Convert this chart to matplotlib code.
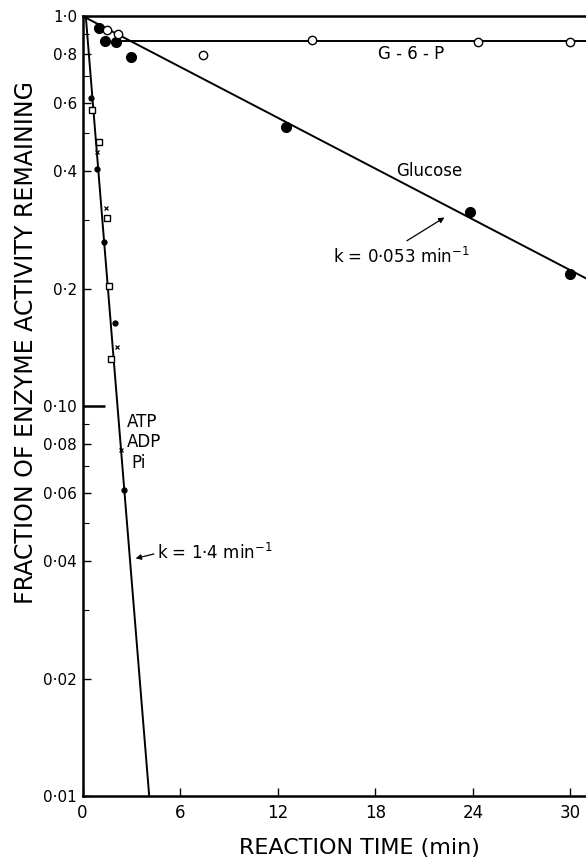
import matplotlib
matplotlib.use("Agg")
import matplotlib.pyplot as plt
import numpy as np

# ---- data ----
glucose_t = [1.0, 1.38, 2.05, 3.0, 12.5, 23.8, 30.0]
glucose_y = [0.93, 0.863, 0.858, 0.785, 0.52, 0.314, 0.218]
glucose_fit_t = [0.0, 31.0]
glucose_fit_y = [1.0, 0.212]

g6p_t = [1.5, 2.2, 7.4, 14.1, 24.3, 30.0]
g6p_y = [0.92, 0.90, 0.794, 0.868, 0.858, 0.858]
g6p_fit_t = [2.3, 31.0]
g6p_fit_y = [0.865, 0.865]

atp_dot_t = [0.52, 0.9, 1.3, 2.0, 2.57]
atp_dot_y = [0.616, 0.405, 0.263, 0.163, 0.061]
atp_sq_t = [0.58, 1.0, 1.5, 1.6, 1.75]
atp_sq_y = [0.574, 0.475, 0.303, 0.203, 0.132]
atp_x_t = [0.88, 1.43, 2.15, 2.35]
atp_x_y = [0.448, 0.322, 0.142, 0.077]
atp_fit_t = [0.2, 4.1]
atp_fit_y = [1.0, 0.01]

x_ticks = [0, 6, 12, 18, 24, 30]
y_major = [0.01, 0.02, 0.04, 0.06, 0.08, 0.1, 0.2, 0.4, 0.6, 0.8, 1.0]
y_major_labels = ["0·01", "0·02", "0·04", "0·06", "0·08", "0·10",
                  "0·2", "0·4", "0·6", "0·8", "1·0"]
y_minor = [0.03, 0.05, 0.07, 0.09, 0.3, 0.5, 0.7, 0.9]

plt.rcParams['font.family'] = ['DejaVu Sans']

fig = plt.figure(figsize=(5.86, 8.61), dpi=100)
ax = fig.add_axes([0.1408, 0.0755, 0.859, 0.9059])
ax.set_yscale('log')
ax.set_xlim(0, 30.95)
ax.set_ylim(0.01, 1.0)

lw = 1.4
ax.plot(glucose_fit_t, glucose_fit_y, color='black', lw=lw)
ax.plot(g6p_fit_t, g6p_fit_y, color='black', lw=lw)
ax.plot(atp_fit_t, atp_fit_y, color='black', lw=lw)

ax.plot(glucose_t, glucose_y, 'o', color='black', ms=7, clip_on=False)
ax.plot(g6p_t, g6p_y, 'o', mfc='white', mec='black', mew=1.0, ms=6, clip_on=False)
ax.plot(atp_dot_t, atp_dot_y, 'o', color='black', ms=3.5)
ax.plot(atp_sq_t, atp_sq_y, 's', mfc='white', mec='black', mew=1.0, ms=4.5)
ax.plot(atp_x_t, atp_x_y, 'x', color='black', mew=0.9, ms=3.5)

# spines
for s in ['left', 'bottom', 'top']:
    ax.spines[s].set_linewidth(1.8)
ax.spines['right'].set_visible(False)

ax.set_xticks(x_ticks)
ax.set_xticklabels([str(v) for v in x_ticks], fontsize=12)
ax.set_yticks(y_major)
ax.set_yticklabels(y_major_labels, fontsize=11)
ax.set_yticks(y_minor, minor=True)
ax.yaxis.set_minor_formatter(matplotlib.ticker.NullFormatter())
ax.tick_params(axis='both', which='major', direction='in', length=6, width=1.0, pad=4,
               top=False, right=False)
ax.tick_params(axis='y', which='minor', direction='in', length=4, width=0.8, right=False)
ax.tick_params(axis='x', which='major', pad=6)
# longer tick at 0.10
for t, v in zip(ax.yaxis.get_major_ticks(), y_major):
    if abs(v - 0.1) < 1e-9:
        t.tick1line.set_markersize(16)
        t.tick1line.set_markeredgewidth(1.8)

ax.set_xlabel("REACTION TIME (min)", fontsize=16, va='center')
ax.xaxis.set_label_coords(0.551, -0.0665)
ax.set_ylabel("FRACTION OF ENZYME ACTIVITY REMAINING", fontsize=17, va='center')
ax.yaxis.set_label_coords(-0.112, 0.581)

# annotations
ax.text(20.2, 0.80, "G - 6 - P", fontsize=12, ha='center', va='center')
ax.text(21.3, 0.40, "Glucose", fontsize=12, ha='center', va='center')
ax.text(15.4, 0.241, "k = 0·053 min$^{-1}$", fontsize=12, ha='left', va='center')
ax.annotate("", xy=(22.4, 0.307), xytext=(19.8, 0.263),
            arrowprops=dict(arrowstyle='-|>', color='black', lw=0.9, mutation_scale=8))
ax.text(2.75, 0.091, "ATP", fontsize=12, ha='left', va='center')
ax.text(2.75, 0.081, "ADP", fontsize=12, ha='left', va='center')
ax.text(3.0, 0.0714, "Pi", fontsize=12, ha='left', va='center')
ax.text(4.6, 0.0419, "k = 1·4 min$^{-1}$", fontsize=12, ha='left', va='center')
ax.annotate("", xy=(3.1, 0.0405), xytext=(4.55, 0.0419),
            arrowprops=dict(arrowstyle='-|>', color='black', lw=0.9, mutation_scale=8))

fig.savefig("out.png", dpi=100)
